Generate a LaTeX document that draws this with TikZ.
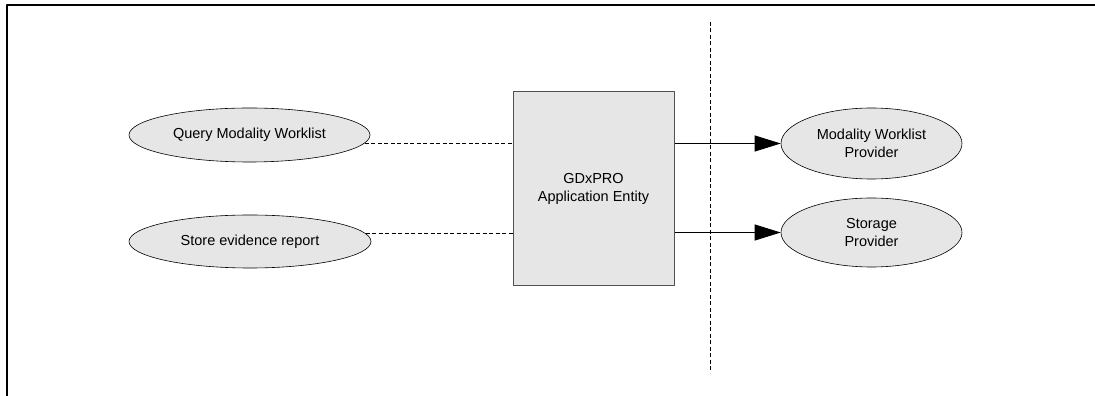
\documentclass[tikz,border=0pt]{standalone}
\usepackage{fontspec}
\setmainfont{Liberation Sans}
\usepackage{tikz}
\usetikzlibrary{arrows.meta, shapes, positioning}
\usepackage{xcolor}
\definecolor{lightgraybox}{RGB}{230,230,230}
\definecolor{darkgrayline}{RGB}{80,80,80}
\tikzset{grayellipsenode/.style={ellipse, fill=lightgraybox, draw=black, line width=0.6pt, inner sep=0pt, align=center, font=\fontsize{14.5}{18}\selectfont},
grayboxnode/.style={rectangle, fill=lightgraybox, draw=darkgrayline, line width=1pt, align=center, font=\fontsize{14.5}{18}\selectfont}}

\begin{document}
\begin{tikzpicture}[
        line join=bevel,
        dashedline/.style={black, line width=0.6pt, dash pattern=on 4pt off 2.5pt},
        arrowline/.style={black, line width=0.8pt, -{Triangle[length=26pt, width=16pt]}}
    ]
        \useasboundingbox (0pt, 0pt) rectangle (1095pt, 396pt);
        % Frame
        \draw[line width=2.2pt] (7pt, 0pt) -- (7pt, 391pt) -- (1095pt, 391pt);
        % Separator
        \draw[dashedline] (710pt, 374pt) -- (710pt, 23pt);
        % Application entity
        \node[grayboxnode, minimum width=161pt, minimum height=194pt] (entity) at (593.5pt, 207pt) {GDxPRO\\Application Entity};
        % Local activities
        \node[grayellipsenode, minimum width=241pt, minimum height=54pt] (query) at (249.5pt, 261pt) {Query Modality Worklist};
        \node[grayellipsenode, minimum width=242pt, minimum height=53pt] (store) at (250pt, 154.5pt) {Store evidence report};
        % Remote activities
        \node[grayellipsenode, minimum width=181pt, minimum height=71pt] (worklist) at (871.5pt, 252.5pt) {Modality Worklist\\Provider};
        \node[grayellipsenode, minimum width=181pt, minimum height=69pt] (storage) at (871.5pt, 163.5pt) {Storage\\Provider};
        % Connections
        \draw[dashedline] (query.-4) -- (query.-4 -| entity.west);
        \draw[dashedline] (store.4) -- (store.4 -| entity.west);
        \draw[arrowline] (worklist.west -| entity.east) -- (worklist.west);
        \draw[arrowline] (storage.west -| entity.east) -- (storage.west);
    \end{tikzpicture}
\end{document}
